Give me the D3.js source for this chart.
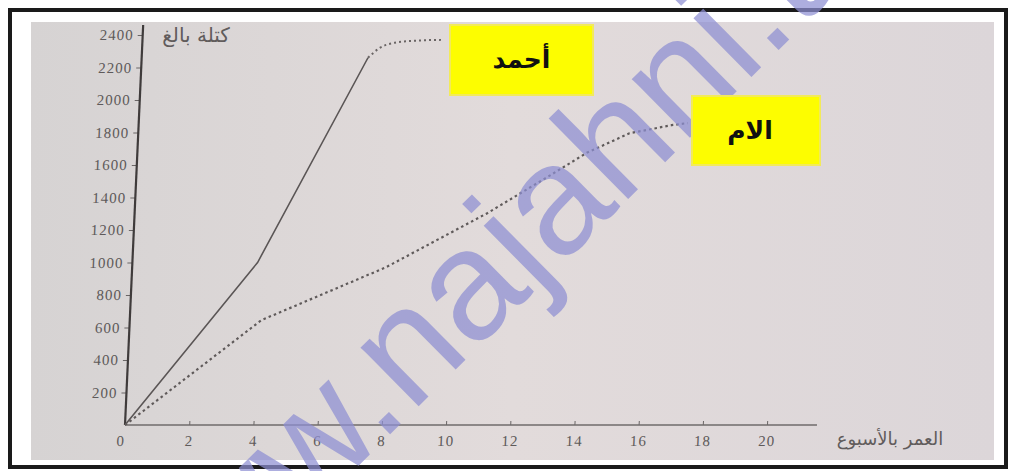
<!DOCTYPE html>
<html>
<head>
<meta charset="utf-8">
<script src="https://cdn.jsdelivr.net/npm/d3@7"></script>
<style>
  html, body { margin: 0; padding: 0; background: #fff; }
  #chart { width: 1011px; height: 471px; }
  .axis text { font-family: "Liberation Serif", "DejaVu Serif", serif; font-size: 15px; fill: #5e5a5a; letter-spacing: 1px; }
  .axis line { stroke: #6a6666; }
</style>
</head>
<body>
<div id="chart"></div>
<script>
// =====================================
// DATA
// =====================================

const xTicks = [0, 2, 4, 6, 8, 10, 12, 14, 16, 18, 20];
const yTicks = [200, 400, 600, 800, 1000, 1200, 1400, 1600, 1800, 2000, 2200, 2400];

// Ahmed: weeks / mass
const ahmedWeeks = [0, 3.9, 7.05, 7.4, 7.8, 8.5, 9.3];
const ahmedMass  = [0, 1000, 2260, 2320, 2350, 2365, 2370];

// mother: weeks / mass
const momWeeks = [0, 4.1, 7.9, 11, 12.8, 14, 15.3, 16.6, 17.1];
const momMass  = [0, 645, 970, 1305, 1525, 1675, 1795, 1845, 1858];

const seriesNames = ["أحمد", "الام"];
const xTitle = "العمر بالأسبوع";
const yTitle = "كتلة بالغ";

// =====================================
// SVG
// =====================================

const W = 1011, H = 471;

const svg = d3.select("#chart")
  .append("svg")
  .attr("width", W)
  .attr("height", H);

const defs = svg.append("defs");
const grad = defs.append("linearGradient").attr("id", "paper");
grad.append("stop").attr("offset", "0%").attr("stop-color", "#d6d3d3");
grad.append("stop").attr("offset", "50%").attr("stop-color", "#e2dbdb");
grad.append("stop").attr("offset", "100%").attr("stop-color", "#dcd6d9");

// frame
svg.append("rect")
  .attr("x", 10).attr("y", 10)
  .attr("width", 996).attr("height", 457)
  .attr("fill", "#fff")
  .attr("stroke", "#1a1a1a")
  .attr("stroke-width", 4);

// paper
svg.append("rect")
  .attr("x", 31).attr("y", 22)
  .attr("width", 963).attr("height", 438)
  .attr("fill", "url(#paper)");

// =====================================
// SCALES
// =====================================

// origin at (125,425); the photo is slightly skewed
const plotH = 400;

const x = d3.scaleLinear()
  .domain([0, 20])
  .range([0, 642]);

const y = d3.scaleLinear()
  .domain([0, 2400])
  .range([plotH, 10]);

const g = svg.append("g")
  .attr("transform", `translate(125,425) skewX(-2.6) translate(0,${-plotH})`);

// =====================================
// AXES
// =====================================

// X Axis
const xAxis = g.append("g")
  .attr("class", "axis")
  .attr("transform", `translate(0,${plotH})`)
  .call(
    d3.axisBottom(x)
      .tickValues(xTicks)
      .tickSize(-4)
      .tickPadding(10)
      .tickSizeOuter(0)
      .tickFormat(d3.format("d"))
  );
xAxis.select(".domain").remove();
xAxis.selectAll(".tick").filter(d => d === 0).select("line").remove();
xAxis.selectAll(".tick text").attr("dx", d => d === 0 ? -4 : 0);

g.append("line")
  .attr("x1", 0).attr("x2", 692)
  .attr("y1", plotH).attr("y2", plotH)
  .attr("stroke", "#6f6b6b")
  .attr("stroke-width", 1.6);

// Y Axis
const yAxis = g.append("g")
  .attr("class", "axis")
  .call(
    d3.axisLeft(y)
      .tickValues(yTicks)
      .tickSize(5)
      .tickPadding(4)
      .tickSizeOuter(0)
      .tickFormat(d3.format("d"))
  );
yAxis.select(".domain").remove();

g.append("line")
  .attr("x1", 0).attr("x2", 0)
  .attr("y1", plotH).attr("y2", 0)
  .attr("stroke", "#3f3b3b")
  .attr("stroke-width", 2.2);

// axis titles
svg.append("text")
  .attr("x", 196).attr("y", 42)
  .attr("text-anchor", "middle")
  .style("font-family", "'DejaVu Sans', sans-serif")
  .style("font-size", "20px")
  .style("fill", "#615c5c")
  .text(yTitle);

svg.append("text")
  .attr("x", 890).attr("y", 445)
  .attr("text-anchor", "middle")
  .style("font-family", "'DejaVu Sans', sans-serif")
  .style("font-size", "18px")
  .style("fill", "#615c5c")
  .text(xTitle);

// =====================================
// LINES
// =====================================

const line = d3.line()
  .x(d => x(d[0]))
  .y(d => y(d[1]));

const curved = d3.line()
  .x(d => x(d[0]))
  .y(d => y(d[1]))
  .curve(d3.curveMonotoneX);

const ahmed = ahmedWeeks.map((w, i) => [w, ahmedMass[i]]);
const mom = momWeeks.map((w, i) => [w, momMass[i]]);

// Ahmed solid part, then dotted plateau
g.append("path")
  .datum(ahmed.slice(0, 3))
  .attr("d", line)
  .attr("fill", "none")
  .attr("stroke", "#5a5555")
  .attr("stroke-width", 1.6);

g.append("path")
  .datum(ahmed.slice(2))
  .attr("d", curved)
  .attr("fill", "none")
  .attr("stroke", "#6a6565")
  .attr("stroke-width", 2)
  .attr("stroke-dasharray", "2 3");

g.append("path")
  .datum(mom)
  .attr("d", line)
  .attr("fill", "none")
  .attr("stroke", "#5f5a5a")
  .attr("stroke-width", 2.2)
  .attr("stroke-dasharray", "2.5 3");

// =====================================
// WATERMARK
// =====================================

svg.append("text")
  .attr("transform", "translate(146,676) rotate(-44.7)")
  .style("font-family", "'Liberation Sans', Arial, sans-serif")
  .style("font-size", "156px")
  .style("fill", "#8e8fd3")
  .style("opacity", 0.72)
  .text("www.najahni.tn");

// =====================================
// LABEL BOXES
// =====================================

const boxes = [
  { name: seriesNames[0], x: 450, y: 25, w: 143, h: 70 },
  { name: seriesNames[1], x: 692, y: 96, w: 128, h: 69 }
];

svg.selectAll(".box")
  .data(boxes)
  .enter()
  .append("rect")
  .attr("class", "box")
  .attr("x", d => d.x).attr("y", d => d.y)
  .attr("width", d => d.w).attr("height", d => d.h)
  .attr("fill", "#fdfd00")
  .attr("stroke", "#f2ea5a")
  .attr("stroke-width", 2);

svg.selectAll(".box-label")
  .data(boxes)
  .enter()
  .append("text")
  .attr("class", "box-label")
  .attr("x", d => d.x + d.w / 2 + (d === boxes[1] ? -6 : 0))
  .attr("y", d => d.y + d.h / 2 + 8)
  .attr("text-anchor", "middle")
  .style("font-family", "'DejaVu Sans', sans-serif")
  .style("font-weight", "bold")
  .style("font-size", "25px")
  .style("fill", "#111")
  .text(d => d.name);
</script>
</body>
</html>
